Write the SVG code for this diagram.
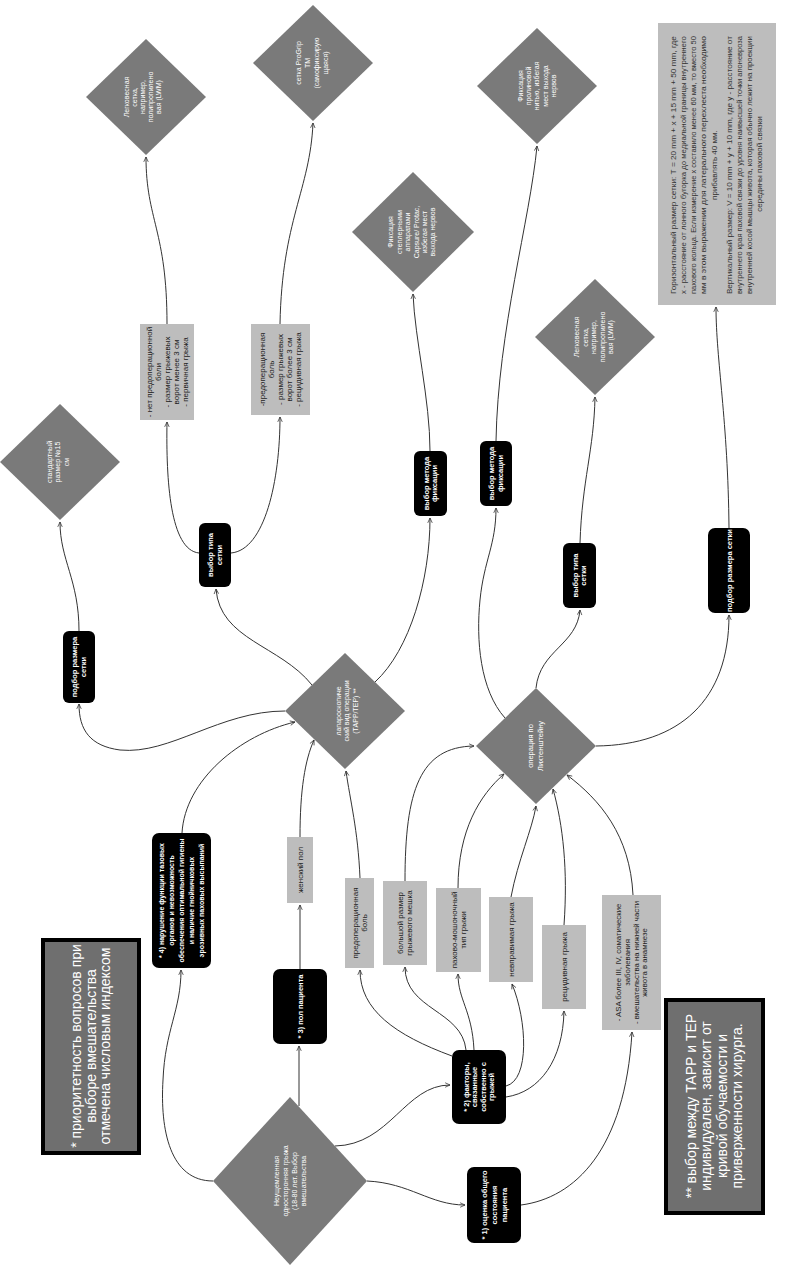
<svg xmlns="http://www.w3.org/2000/svg" width="791" height="1266" viewBox="0 0 791 1266">
<style>
text{font-family:"Liberation Sans",Arial,sans-serif;text-anchor:middle}
.dia{fill:#7a7a7a}
.blk{fill:#000}
.gry{fill:#bdbdbd}
.note{fill:#6f6f6f;stroke:#000;stroke-width:4}
.wd{fill:#fff;font-size:7px}
.wb{fill:#fff;font-size:7.5px;font-weight:bold}
.dk{fill:#222;font-size:8px}
.nt{fill:#fff;font-size:14px}
.fm{fill:#333;font-size:8px}
#edges path{fill:none;stroke:#333;stroke-width:1;marker-end:url(#a)}
</style>
<defs>
<marker id="a" viewBox="0 0 8 8" refX="7.5" refY="4" markerWidth="6" markerHeight="6" orient="auto"><path d="M1,1 L7.5,4 L1,7" fill="none" stroke="#333" stroke-width="1"/></marker>
</defs>
<rect width="791" height="1266" fill="#fff"/>

<g id="edges">
<path d="M213,1181 C170,1181 160,1130 163,1080 C165,1030 181,1010 181,970"/>
<path d="M299,1106 L299,1046"/>
<path d="M335,1146 C390,1145 405,1085 450,1085"/>
<path d="M367,1181 C410,1183 430,1205 465,1205"/>
<path d="M521,1205 C575,1198 625,1150 632,1032"/>
<path d="M633,895 C630,835 600,800 567,775"/>
<path d="M564,925 C568,870 563,825 553,789"/>
<path d="M506,1097 C540,1092 563,1060 564,1011"/>
<path d="M506,1086 C530,1080 527,1020 512,984"/>
<path d="M511,897 C518,860 532,830 536,806"/>
<path d="M474,1050 C472,1010 458,1000 458,974"/>
<path d="M458,888 C458,830 480,795 504,774"/>
<path d="M466,1050 C462,1010 405,1010 405,967"/>
<path d="M405,881 C405,790 420,747 474,746"/>
<path d="M452,1056 C395,1035 360,1010 360,970"/>
<path d="M360,878 C358,830 350,800 346,771"/>
<path d="M300,837 C300,790 305,760 314,740"/>
<path d="M300,969 L300,905"/>
<path d="M182,833 C185,780 240,735 295,722"/>
<path d="M285,711 C220,711 170,755 120,750 C90,746 79,730 79,704"/>
<path d="M79,631 C79,580 60,560 60,522"/>
<path d="M312,685 C280,645 220,640 216,589"/>
<path d="M199,553 C170,550 166,480 167,422"/>
<path d="M231,553 C265,550 280,480 280,417"/>
<path d="M167,324 C167,230 146,220 146,157"/>
<path d="M280,324 C282,220 310,190 313,123"/>
<path d="M375,682 C410,650 430,580 430,518"/>
<path d="M430,451 C430,400 415,340 413,294"/>
<path d="M505,718 C480,690 476,640 480,600 C484,560 496,545 496,508"/>
<path d="M496,441 C498,330 530,220 537,146"/>
<path d="M536,688 C540,650 577,645 580,610"/>
<path d="M580,543 C582,480 594,450 595,397"/>
<path d="M596,746 C680,745 729,700 729,615"/>
<path d="M729,528 C728,420 716,360 716,307"/>
</g>

<g id="note1">
<rect class="note" x="43" y="940" width="96" height="213"/>
<text class="nt" transform="translate(91,1046) rotate(-90)"><tspan x="0" y="-9.6">* приоритетность вопросов при</tspan><tspan x="0" y="4.9">выборе вмешательства</tspan><tspan x="0" y="19.4">отмечена числовым индексом</tspan></text>
</g>

<g id="note2">
<rect class="note" x="666" y="1000" width="97" height="213"/>
<text class="nt" transform="translate(714,1106) rotate(-90)"><tspan x="0" y="-18.4">** выбор между ТАРР и ТЕР</tspan><tspan x="0" y="-2.9">индивидуален, зависит от</tspan><tspan x="0" y="12.6">кривой обучаемости и</tspan><tspan x="0" y="28.1">приверженности хирурга.</tspan></text>
</g>

<g id="formula">
<rect class="gry" x="658" y="23" width="118" height="282" fill="#c2c2c2"/>
<text class="fm" transform="translate(717,164) rotate(-90)">
<tspan x="0" y="-41.2" textLength="258" lengthAdjust="spacingAndGlyphs">Горизонтальный размер сетки: Т = 20 mm + x + 15 mm + 50 mm, где</tspan>
<tspan x="0" y="-31.2" textLength="258" lengthAdjust="spacingAndGlyphs">х - расстояние от лонного бугорка до медиальной границы внутреннего</tspan>
<tspan x="0" y="-21.2" textLength="258" lengthAdjust="spacingAndGlyphs">пахового кольца. Если измерение х составило менее 60 мм, то вместо 50</tspan>
<tspan x="0" y="-11.2" textLength="258" lengthAdjust="spacingAndGlyphs">мм в этом выражении для латерального перехлеста необходимо</tspan>
<tspan x="0" y="-0.2">прибавлять 40 мм.</tspan>
<tspan x="0" y="14.8" textLength="258" lengthAdjust="spacingAndGlyphs">Вертикальный размер: V = 10 mm + y + 10 mm, где у - расстояние от</tspan>
<tspan x="0" y="24.8" textLength="258" lengthAdjust="spacingAndGlyphs">внутреннего края паховой связки до уровня наивысшей точки апоневроза</tspan>
<tspan x="0" y="34.8" textLength="258" lengthAdjust="spacingAndGlyphs">внутренней косой мышцы живота, которая обычно лежит на проекции</tspan>
<tspan x="0" y="44.8">середины паховой связки</tspan>
</text>
</g>

<g id="start">
<polygon class="dia" points="290,1097 367,1181 290,1265 213,1181"/>
<text class="wd" transform="translate(290,1181) rotate(-90)"><tspan x="0" y="-10.6">Неущемленная</tspan><tspan x="0" y="-1.9">односторонняя грыжа</tspan><tspan x="0" y="6.8">(18-80 лет. Выбор</tspan><tspan x="0" y="15.5">вмешательства</tspan></text>
</g>

<g id="n1">
<rect class="blk" x="467" y="1167" width="54" height="76" rx="7"/>
<text class="wb" transform="translate(494,1205) rotate(-90)"><tspan x="0" y="-7.4">* 1) оценка общего</tspan><tspan x="0" y="2.6">состояния</tspan><tspan x="0" y="12.6">пациента</tspan></text>
</g>

<g id="n2">
<rect class="blk" x="452" y="1050" width="54" height="74" rx="7"/>
<text class="wb" transform="translate(479,1087) rotate(-90)"><tspan x="0" y="-10.1">* 2) факторы,</tspan><tspan x="0" y="-1.6">связанные</tspan><tspan x="0" y="6.9">собственно с</tspan><tspan x="0" y="15.4">грыжей</tspan></text>
</g>

<g id="n3">
<rect class="blk" x="273" y="969" width="54" height="75" rx="7"/>
<text class="wb" transform="translate(300,1006.5) rotate(-90)"><tspan x="0" y="2.6">* 3) пол пациента</tspan></text>
</g>

<g id="n4">
<rect class="blk" x="152" y="833" width="59" height="135" rx="7"/>
<text class="wb" style="font-size:7px" transform="translate(181.5,900.5) rotate(-90)"><tspan x="0" y="-17.6">* 4) нарушение функции тазовых</tspan><tspan x="0" y="-7.6">органов и невозможность</tspan><tspan x="0" y="2.4">обеспечения оптимальной гигиены</tspan><tspan x="0" y="12.4">и наличие гнойничковых</tspan><tspan x="0" y="22.4">эрозивных паховых высыпаний</tspan></text>
</g>

<g id="female">
<rect class="gry" x="287" y="837" width="26" height="66"/>
<text class="dk" transform="translate(300,870) rotate(-90)"><tspan x="0" y="2.8">женский пол</tspan></text>
</g>

<g id="pain">
<rect class="gry" x="345" y="878" width="29" height="90"/>
<text class="dk" transform="translate(359.5,923) rotate(-90)"><tspan x="0" y="-1.7">предоперационная</tspan><tspan x="0" y="7.3">боль</tspan></text>
</g>

<g id="big">
<rect class="gry" x="383" y="881" width="44" height="84"/>
<text class="dk" transform="translate(405,923) rotate(-90)"><tspan x="0" y="-1.7">большой размер</tspan><tspan x="0" y="7.3">грыжевого мешка</tspan></text>
</g>

<g id="scrot">
<rect class="gry" x="436" y="888" width="45" height="84"/>
<text class="dk" transform="translate(458.5,930) rotate(-90)"><tspan x="0" y="-1.7">пахово-мошоночный</tspan><tspan x="0" y="7.3">тип грыжи</tspan></text>
</g>

<g id="irred">
<rect class="gry" x="489" y="897" width="44" height="85"/>
<text class="dk" transform="translate(511,939.5) rotate(-90)"><tspan x="0" y="2.8">невправимая грыжа</tspan></text>
</g>

<g id="recur">
<rect class="gry" x="542" y="925" width="44" height="84"/>
<text class="dk" transform="translate(564,967) rotate(-90)"><tspan x="0" y="2.8">рецидивная грыжа</tspan></text>
</g>

<g id="asa">
<rect class="gry" x="602" y="895" width="59" height="135"/>
<text class="dk" style="font-size:7.8px" transform="translate(631.5,962.5) rotate(-90)"><tspan x="0" y="-10.3">- ASA более III, IV, соматические</tspan><tspan x="0" y="-1.6">заболевания</tspan><tspan x="0" y="7.1">- вмешательства на нижней части</tspan><tspan x="0" y="15.8">живота в анамнезе</tspan></text>
</g>

<g id="lap">
<polygon class="dia" points="345,653 405,711 345,769 285,711"/>
<text class="wd" transform="translate(347,711) rotate(-90)"><tspan x="0" y="-6.05">лапароскопиче</tspan><tspan x="0" y="2.45">ский вид операции</tspan><tspan x="0" y="10.95">(ТАРР/ТЕР) **</tspan></text>
</g>

<g id="lich">
<polygon class="dia" points="536,688 596,746 536,804 476,746"/>
<text class="wd" style="font-size:7.5px" transform="translate(535,746) rotate(-90)"><tspan x="0" y="-2.4">операция по</tspan><tspan x="0" y="7.6">Лихтенштейну</tspan></text>
</g>

<g id="size1">
<rect class="blk" x="63" y="631" width="32" height="72" rx="6"/>
<text class="wb" transform="translate(79,667) rotate(-90)"><tspan x="0" y="-1.6">подбор размера</tspan><tspan x="0" y="6.9">сетки</tspan></text>
</g>

<g id="std">
<polygon class="dia" points="60,404 120,462 60,520 0,462"/>
<text class="wd" transform="translate(58,462) rotate(-90)"><tspan x="0" y="-6.05">стандартный</tspan><tspan x="0" y="2.45">размер №15</tspan><tspan x="0" y="10.95">см</tspan></text>
</g>

<g id="type1">
<rect class="blk" x="199" y="523" width="32" height="64" rx="6"/>
<text class="wb" transform="translate(215,555) rotate(-90)"><tspan x="0" y="-1.6">выбор типа</tspan><tspan x="0" y="6.9">сетки</tspan></text>
</g>

<g id="cond1">
<rect class="gry" x="140" y="324" width="54" height="96"/>
<text class="dk" transform="translate(167,372) rotate(-90)"><tspan x="0" y="-15.2">- нет предоперационной</tspan><tspan x="0" y="-6.2">боли</tspan><tspan x="0" y="2.8">- размер грыжевых</tspan><tspan x="0" y="11.8">ворот менее 3 см</tspan><tspan x="0" y="20.8">- первичная грыжа</tspan></text>
</g>

<g id="cond2">
<rect class="gry" x="251" y="324" width="59" height="91"/>
<text class="dk" transform="translate(280.5,369.5) rotate(-90)"><tspan x="0" y="-15.2">-предоперационная</tspan><tspan x="0" y="-6.2">боль</tspan><tspan x="0" y="2.8">- размер грыжевых</tspan><tspan x="0" y="11.8">ворот более 3 см</tspan><tspan x="0" y="20.8">- рецидивная грыжа</tspan></text>
</g>

<g id="lwm1">
<polygon class="dia" points="146,39 206,97 146,155 86,97"/>
<text class="wd" transform="translate(143,97) rotate(-90)"><tspan x="0" y="-13.55">Легковесная</tspan><tspan x="0" y="-5.55">сетка,</tspan><tspan x="0" y="2.45">например,</tspan><tspan x="0" y="10.45">полипропилено</tspan><tspan x="0" y="18.45">вая (LWM)</tspan></text>
</g>

<g id="progrip">
<polygon class="dia" points="313,5 373,63 313,121 253,63"/>
<text class="wd" transform="translate(312,63) rotate(-90)"><tspan x="0" y="-11.05">сетка ProGrip</tspan><tspan x="0" y="-2.05">TM</tspan><tspan x="0" y="6.95">(самофиксирую</tspan><tspan x="0" y="15.95">щаяся)</tspan></text>
</g>

<g id="fix1">
<rect class="blk" x="414" y="451" width="33" height="65" rx="6"/>
<text class="wb" transform="translate(430.5,483.5) rotate(-90)"><tspan x="0" y="-1.6">выбор метода</tspan><tspan x="0" y="6.9">фиксации</tspan></text>
</g>

<g id="stapler">
<polygon class="dia" points="413,172 474,232 413,292 352,232"/>
<text class="wd" transform="translate(412,232) rotate(-90)"><tspan x="0" y="-18.55">Фиксация</tspan><tspan x="0" y="-10.15">степлерными</tspan><tspan x="0" y="-1.75">аппаратами</tspan><tspan x="0" y="6.65">Capsure/ Protac,</tspan><tspan x="0" y="15.05">избегая мест</tspan><tspan x="0" y="23.45">выхода нервов</tspan></text>
</g>

<g id="fix2">
<rect class="blk" x="480" y="441" width="32" height="65" rx="6"/>
<text class="wb" transform="translate(496,473.5) rotate(-90)"><tspan x="0" y="-1.6">выбор метода</tspan><tspan x="0" y="6.9">фиксации</tspan></text>
</g>

<g id="suture">
<polygon class="dia" points="537,28 597,86 537,144 477,86"/>
<text class="wd" transform="translate(537,86) rotate(-90)"><tspan x="0" y="-14.35">Фиксация</tspan><tspan x="0" y="-5.95">пролиновой</tspan><tspan x="0" y="2.45">нитью, избегая</tspan><tspan x="0" y="10.85">мест выхода</tspan><tspan x="0" y="19.25">нервов</tspan></text>
</g>

<g id="type2">
<rect class="blk" x="563" y="543" width="33" height="65" rx="6"/>
<text class="wb" transform="translate(579.5,575.5) rotate(-90)"><tspan x="0" y="-1.6">выбор типа</tspan><tspan x="0" y="6.9">сетки</tspan></text>
</g>

<g id="lwm2">
<polygon class="dia" points="595,279 655,337 595,395 535,337"/>
<text class="wd" transform="translate(594,337) rotate(-90)"><tspan x="0" y="-14.55">Легковесная</tspan><tspan x="0" y="-6.05">сетка,</tspan><tspan x="0" y="2.45">например,</tspan><tspan x="0" y="10.95">полипропилено</tspan><tspan x="0" y="19.45">вая (LWM)</tspan></text>
</g>

<g id="size2">
<rect class="blk" x="708" y="528" width="42" height="85" rx="7"/>
<text class="wb" transform="translate(729,570.5) rotate(-90)"><tspan x="0" y="2.6">подбор размера сетки</tspan></text>
</g>
</svg>
